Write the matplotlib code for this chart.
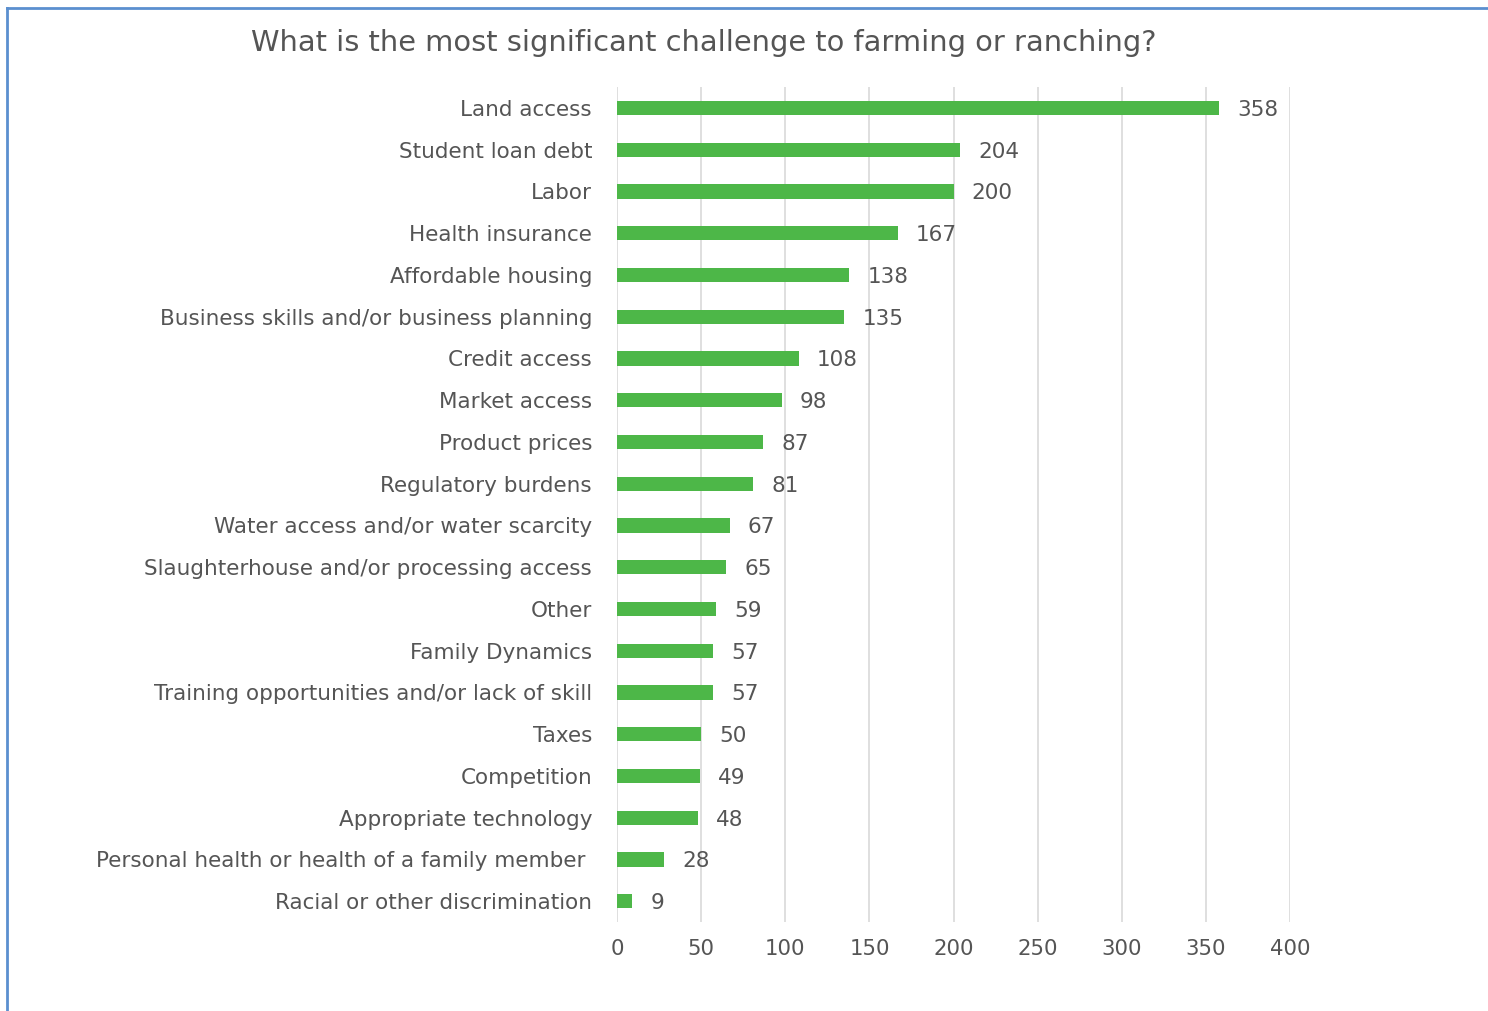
import matplotlib
matplotlib.use("Agg")
import matplotlib.pyplot as plt
from matplotlib.lines import Line2D

categories = [
    "Land access",
    "Student loan debt",
    "Labor",
    "Health insurance",
    "Affordable housing",
    "Business skills and/or business planning",
    "Credit access",
    "Market access",
    "Product prices",
    "Regulatory burdens",
    "Water access and/or water scarcity",
    "Slaughterhouse and/or processing access",
    "Other",
    "Family Dynamics",
    "Training opportunities and/or lack of skill",
    "Taxes",
    "Competition",
    "Appropriate technology",
    "Personal health or health of a family member ",
    "Racial or other discrimination",
]
counts = [358, 204, 200, 167, 138, 135, 108, 98, 87, 81, 67, 65, 59, 57, 57, 50, 49, 48, 28, 9]
x_ticks = [0, 50, 100, 150, 200, 250, 300, 350, 400]
title = "What is the most significant challenge to farming or ranching?"

plt.rcParams["font.family"] = ["DejaVu Sans"]
text_color = "#555555"
bar_color = "#4DB748"
grid_color = "#D9D9D9"

fig = plt.figure(figsize=(14.88, 10.11), dpi=100)
ax = fig.add_axes([0.4147, 0.0880, 0.4523, 0.8259])

ypos = list(range(len(categories)))
ax.barh(ypos, counts, height=0.34, color=bar_color, zorder=3)

for y, v in zip(ypos, counts):
    ax.annotate(str(v), xy=(v, y), xytext=(13, 0), textcoords="offset points",
                va="center_baseline", ha="left", fontsize=15.5, color=text_color)

ax.set_ylim(len(categories) - 0.5, -0.5)
ax.set_xlim(0, 400)
ax.set_xticks(x_ticks)
ax.set_xticklabels([str(t) for t in x_ticks])
ax.set_yticks(ypos)
ax.set_yticklabels(categories, va="center_baseline")

ax.tick_params(axis="y", length=0, pad=18, labelsize=15.5, labelcolor=text_color)
ax.tick_params(axis="x", length=0, pad=12, labelsize=15.3, labelcolor=text_color)
ax.xaxis.grid(True, color=grid_color, linewidth=1.2, zorder=0)
ax.set_axisbelow(True)
for s in ax.spines.values():
    s.set_visible(False)

fig.text(704 / 1488, 1 - 43 / 1011, title, ha="center", va="center",
         fontsize=20.8, color=text_color)

# slide frame lines (top and left)
fig.add_artist(Line2D([7 / 1488, 1], [1 - 8 / 1011, 1 - 8 / 1011],
                      transform=fig.transFigure, color="#5B8FCF", linewidth=2))
fig.add_artist(Line2D([7 / 1488, 7 / 1488], [0, 1 - 8 / 1011],
                      transform=fig.transFigure, color="#5B8FCF", linewidth=2))

fig.savefig("out.png", dpi=100)
